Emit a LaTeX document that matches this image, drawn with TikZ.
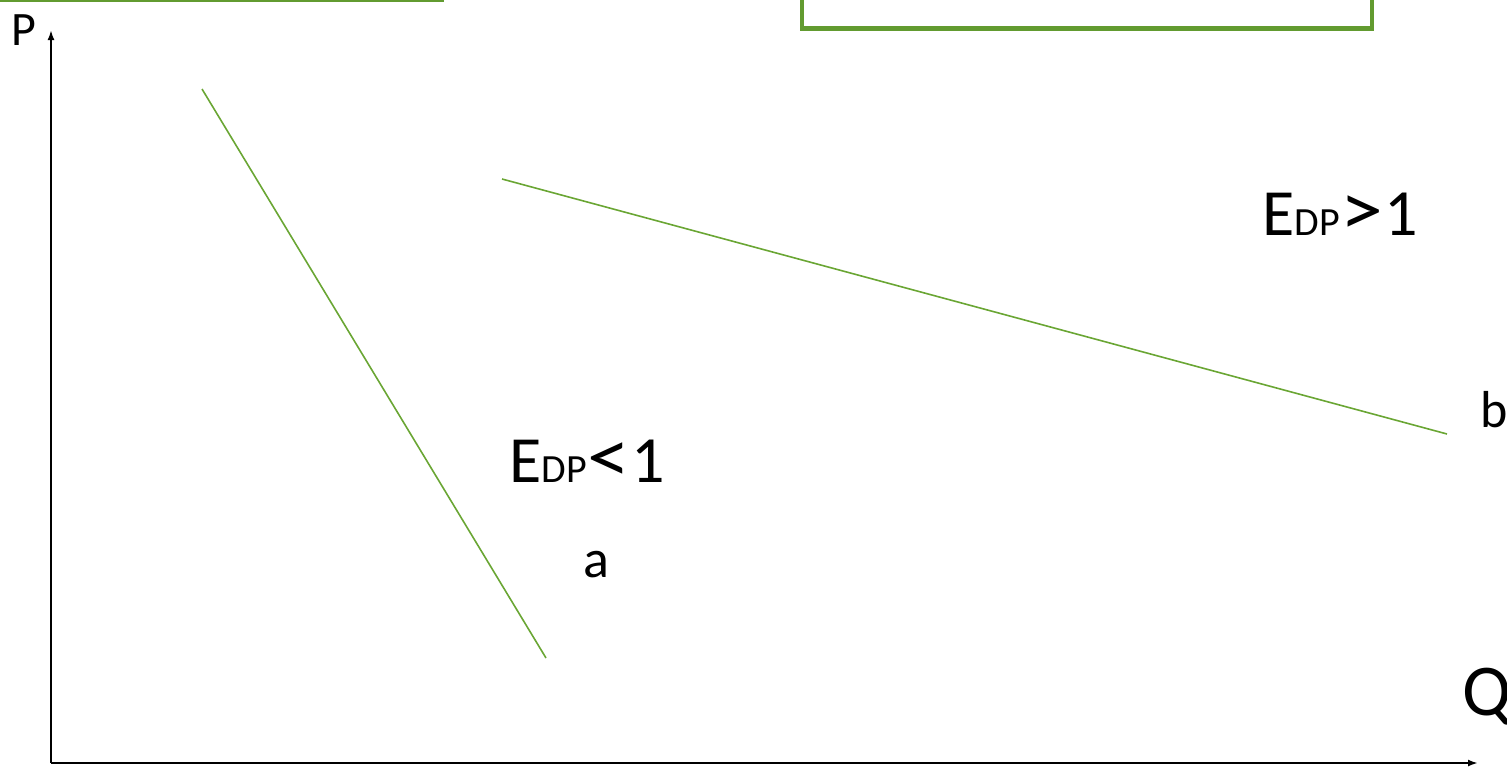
\documentclass[tikz,border=0pt]{standalone}
\usepackage{fontspec}
\usepackage{graphicx}
\setmainfont{Carlito}
\usetikzlibrary{arrows.meta}
\definecolor{boxgreen}{RGB}{98,155,48}
\definecolor{linegreen}{RGB}{106,166,52}
\tikzset{
  txt/.style={inner sep=0pt, anchor=base west, text=black},
  curve/.style={draw=linegreen, line width=1.6pt},
  axis/.style={draw=black, line width=2pt, -{Latex[length=10pt,width=7pt]}},
  frame/.style={draw=boxgreen, line width=4.5pt},
}
\newcommand{\edp}[1]{{\fontsize{66}{70}\selectfont E{\fontsize{40}{42}\selectfont DP}\hspace{1pt}\scalebox{1.3}[1.15]{#1}\hspace{1pt}1}}
\begin{document}
\begin{tikzpicture}[x=1pt,y=-1pt]
\useasboundingbox (0,0) rectangle (1507,766);
\clip (0,0) rectangle (1507,766);
% cut-off boxes at the top
\draw[frame, line width=2.8pt] (-20,-60) rectangle (443,0.5);
\draw[frame] (802,-60) rectangle (1372,28.5);
% axes
\coordinate (origin) at (51,763);
\coordinate (ytop) at (51,30);
\coordinate (xend) at (1478,763);
\draw[axis] (origin) -- (ytop);
\draw[axis] (origin) -- (xend);
% labels
\node[txt, font=\fontsize{48}{52}\selectfont] (P) at (11,45) {P};
\node[txt, font=\fontsize{73}{78}\selectfont] (Q) at (1462,715) {Q};
\node[txt, font=\fontsize{52}{56}\selectfont] (b) at (1480,427) {b};
\node[txt, font=\fontsize{54}{58}\selectfont] (a) at (583,577) {a};
\node[txt] (e1) at (509,482) {\edp{<}};
\node[txt] (e2) at (1262,235) {\edp{>}};
% demand curves
\coordinate (a1) at (202,89);
\coordinate (a2) at (546,658);
\coordinate (b1) at (502,179);
\coordinate (b2) at (1447,434);
\draw[curve] (a1) -- (a2);
\draw[curve] (b1) -- (b2);
\end{tikzpicture}
\end{document}
